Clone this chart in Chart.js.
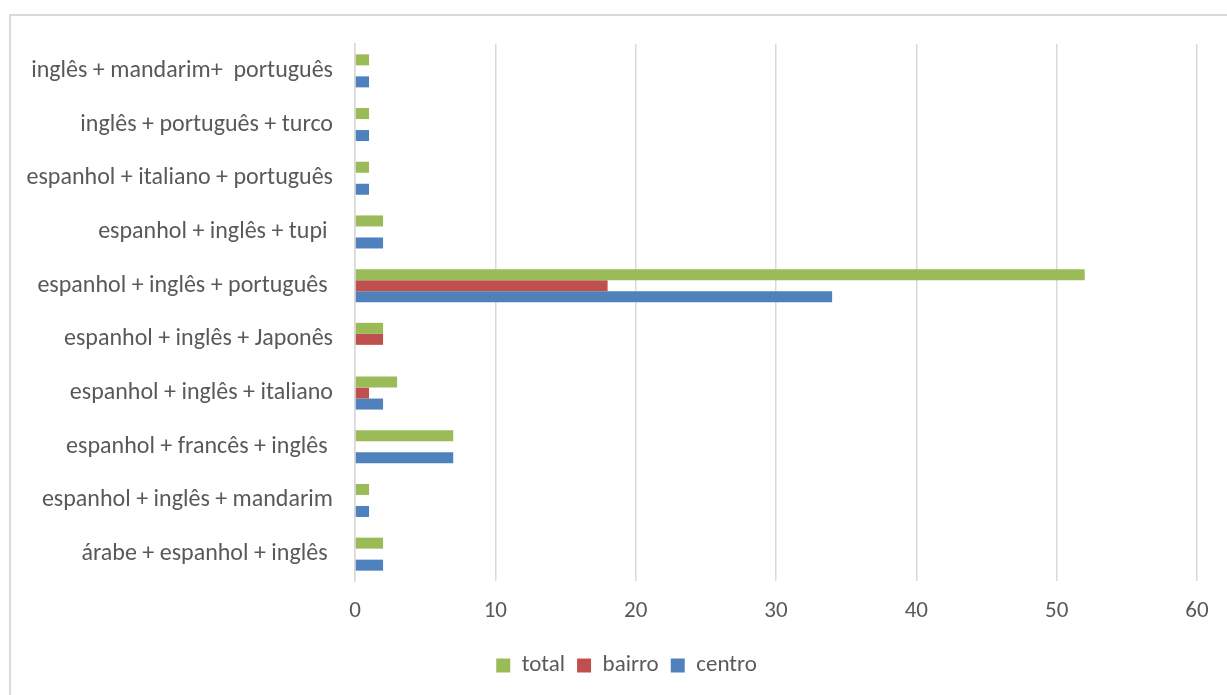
<!DOCTYPE html>
<html>
<head>
<meta charset="utf-8">
<script src="https://cdn.jsdelivr.net/npm/chart.js@4"></script>
<style>
  html, body { margin: 0; padding: 0; background: #ffffff; overflow: hidden; }
  #frame {
    position: absolute; left: 9px; top: 14px; width: 1260px; height: 720px;
    border: 2px solid #d9d9d9; box-sizing: border-box;
  }
  #chart { position: absolute; left: 0; top: 0; }
</style>
</head>
<body>
<div id="frame"></div>
<canvas id="chart" width="1227" height="695"></canvas>
<script>
// categories, top to bottom as in the picture
const categories = [
  "inglês + mandarim+  português",
  "inglês + português + turco",
  "espanhol + italiano + português",
  "espanhol + inglês + tupi ",
  "espanhol + inglês + português ",
  "espanhol + inglês + Japonês",
  "espanhol + inglês + italiano",
  "espanhol + francês + inglês ",
  "espanhol + inglês + mandarim",
  "árabe + espanhol + inglês "
];
const totalValues = [1, 1, 1, 2, 52, 2, 3, 7, 1, 2];
const bairroValues = [0, 0, 0, 0, 18, 2, 1, 0, 0, 0];
const centroValues = [1, 1, 1, 2, 34, 0, 2, 7, 1, 2];
const xTicks = [0, 10, 20, 30, 40, 50, 60];

const fontFamily = "Carlito, Calibri, Lato, 'Open Sans', sans-serif";
const textColor = "#595959";
const gridColor = "#d9d9d9";

// the legend in the picture is centred on the whole frame, not on the plot
const legendShift = {
  id: "legendShift",
  afterLayout(chart) {
    if (chart.legend) {
      chart.legend.left += 28;
      chart.legend.right += 28;
    }
  }
};

const ctx = document.getElementById("chart");

new Chart(ctx, {
  type: "bar",
  data: {
    labels: categories,
    datasets: [
      { label: "total", data: totalValues, backgroundColor: "#9bbb59" },
      { label: "bairro", data: bairroValues, backgroundColor: "#c0504d" },
      { label: "centro", data: centroValues, backgroundColor: "#4f81bd" }
    ]
  },
  plugins: [legendShift],
  options: {
    indexAxis: "y",
    responsive: false,
    animation: false,
    devicePixelRatio: 1,
    datasets: {
      bar: { categoryPercentage: 0.615, barPercentage: 1, borderWidth: 0 }
    },
    layout: { padding: { top: 44, right: 30, left: 0, bottom: 8 } },
    plugins: {
      legend: {
        position: "bottom",
        labels: {
          color: textColor,
          font: { family: fontFamily, size: 23 },
          boxWidth: 14,
          boxHeight: 14,
          padding: 12
        }
      },
      tooltip: { enabled: false }
    },
    scales: {
      x: {
        min: 0,
        max: 60,
        afterBuildTicks: (scale) => {
          scale.ticks = xTicks.map((v) => ({ value: v }));
        },
        afterFit: (scale) => { scale.height = 61; },
        grid: { color: gridColor, lineWidth: 1.5, drawTicks: false },
        border: { display: false },
        ticks: {
          color: textColor,
          font: { family: fontFamily, size: 23 },
          padding: 16
        }
      },
      y: {
        afterFit: (scale) => { scale.width = 355; },
        grid: { display: false, drawTicks: false },
        border: { display: true, color: gridColor, width: 1.5 },
        ticks: {
          color: textColor,
          font: { family: fontFamily, size: 24 },
          padding: 22,
          autoSkip: false
        }
      }
    }
  }
});
</script>
</body>
</html>
